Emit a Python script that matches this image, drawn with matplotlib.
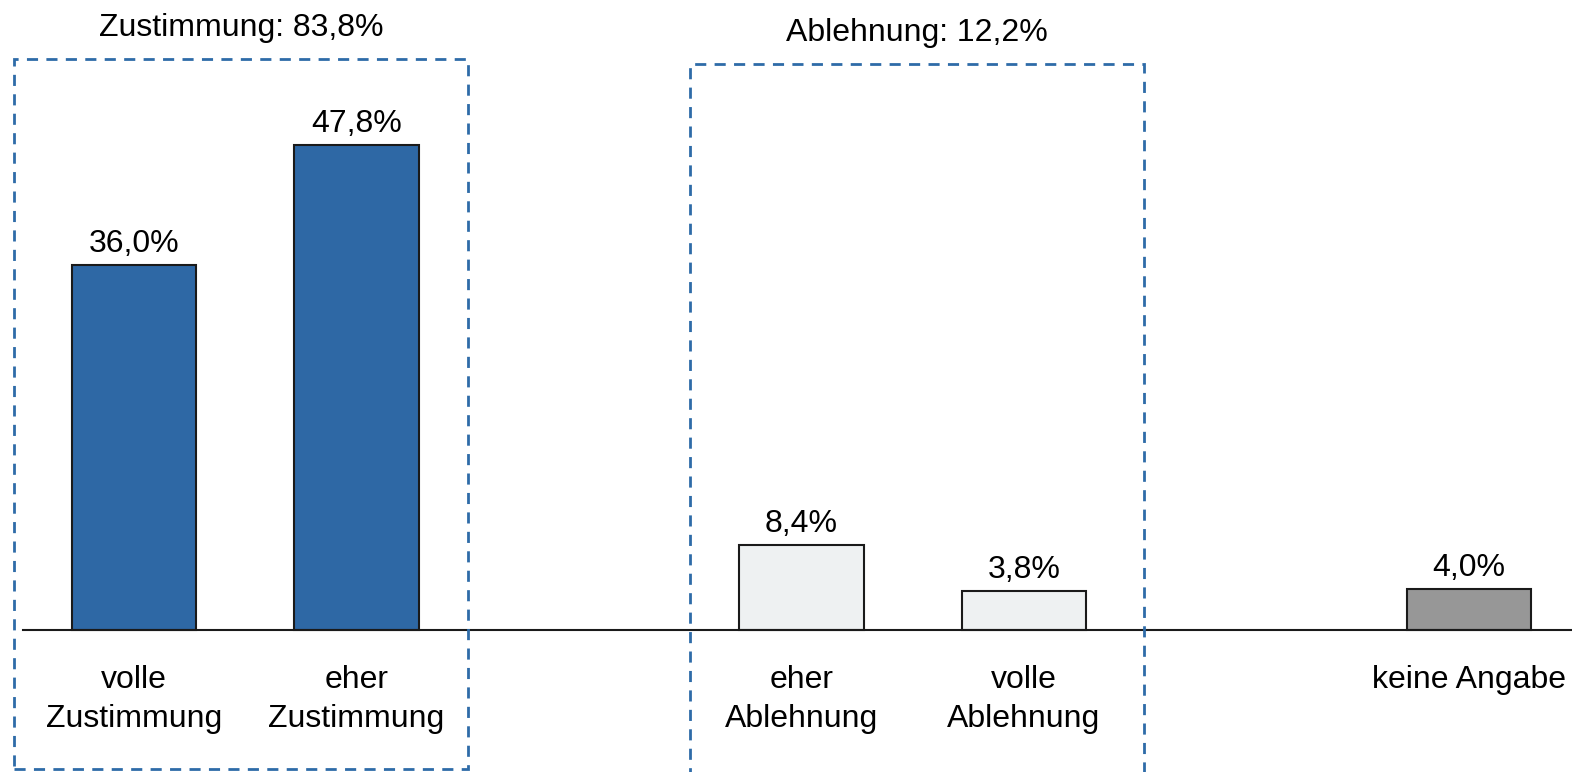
import matplotlib.pyplot as plt
from matplotlib.patches import Rectangle

# data
categories = ['volle\nZustimmung', 'eher\nZustimmung', 'eher\nAblehnung', 'volle\nAblehnung', 'keine Angabe']
values = [36.0, 47.8, 8.4, 3.8, 4.0]
group_titles = ['Zustimmung: 83,8%', 'Ablehnung: 12,2%']

# layout
xpos = [0, 1, 3, 4, 6]
colors = ['#2E68A5', '#2E68A5', '#EEF1F2', '#EEF1F2', '#979797']
box_color = '#2E6BA8'

plt.rcParams['font.family'] = ['Liberation Sans', 'DejaVu Sans']

fig = plt.figure(figsize=(15.72, 7.72), dpi=100)
ax = fig.add_axes([0, 0, 1, 1])
ax.set_xlim(-0.602, 6.463)
ax.set_ylim(-13.99, 62.07)
ax.axis('off')

ax.bar(xpos, values, width=0.56, color=colors, edgecolor='#1a1a1a', linewidth=1.5, zorder=2)
ax.plot([-0.5, 6.6], [0, 0], color='#1a1a1a', linewidth=1.5, zorder=3)

fs = 23
for x, v, c in zip(xpos, values, categories):
    ax.text(x, v + 0.6, f'{v:.1f}%'.replace('.', ','), ha='center', va='bottom', fontsize=fs)
    ax.text(x, -3.4, c, ha='center', va='top', fontsize=fs, linespacing=1.42)

# dashed group boxes
boxes = [(xpos[0] - 0.54, xpos[1] + 0.50, 56.26, -13.69),
         (xpos[2] - 0.50, xpos[3] + 0.54, 55.76, -15.0)]
for (x0, x1, top, bot), title in zip(boxes, group_titles):
    ax.add_patch(Rectangle((x0, bot), x1 - x0, top - bot, fill=False,
                           edgecolor=box_color, linewidth=2, linestyle=(0, (4, 3)),
                           zorder=4, clip_on=False))
    ax.text((x0 + x1) / 2, top + 1.6, title, ha='center', va='bottom', fontsize=fs)

fig.savefig('out.png', dpi=100)
